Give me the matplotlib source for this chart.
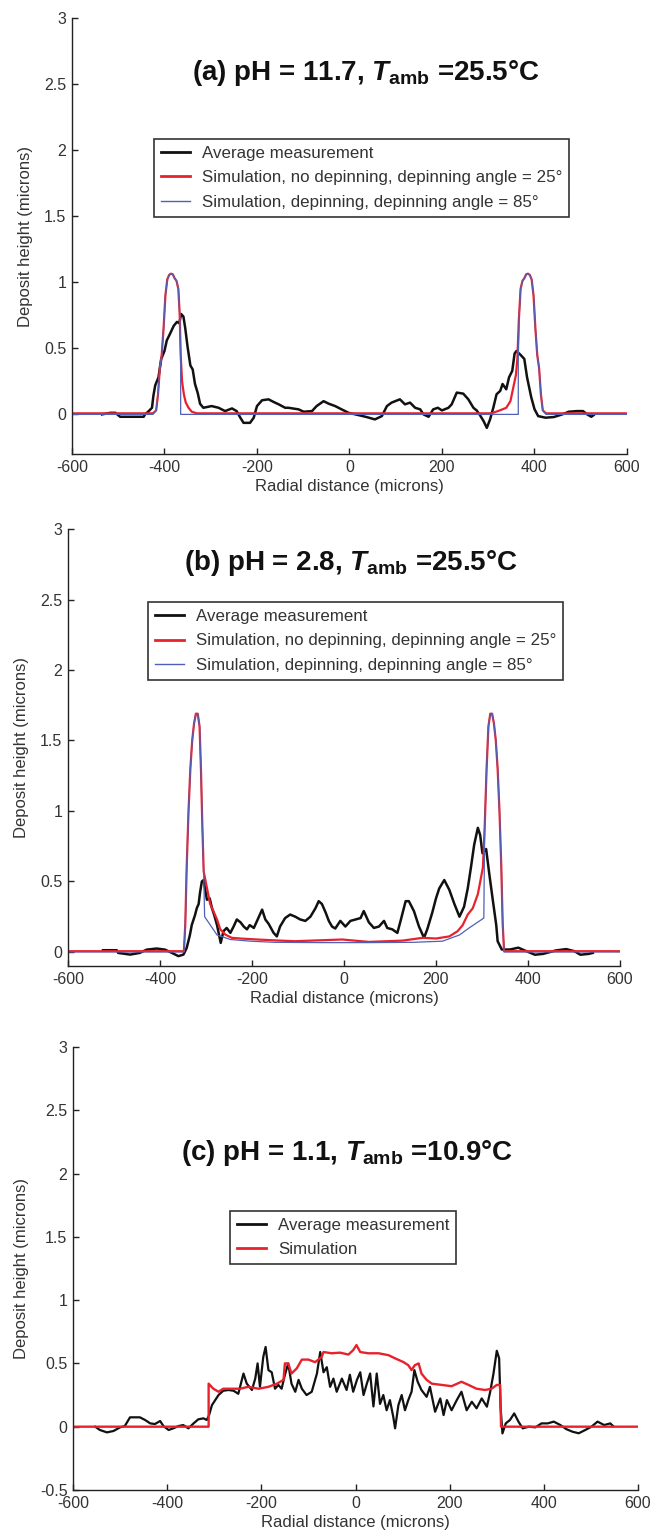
import matplotlib
matplotlib.use('Agg')
import matplotlib.pyplot as plt

plt.rcParams['font.family'] = ['Liberation Sans', 'DejaVu Sans']
plt.rcParams['mathtext.fontset'] = 'custom'
plt.rcParams['mathtext.it'] = 'Liberation Sans:italic:bold'
plt.rcParams['mathtext.bf'] = 'Liberation Sans:bold'
plt.rcParams['mathtext.rm'] = 'Liberation Sans:bold'
plt.rcParams['axes.unicode_minus'] = False

# ---- panel (a): pH 11.7 ----
a_meas_x = [-535, -517, -506, -496, -470, -445, -442, -434, -427, -424, -420, -413, -407, -400, -395,
            -388, -380, -373, -368, -364, -359, -355, -350, -344, -339, -334, -328, -323, -316, -298,
            -283, -269, -254, -244, -236, -229, -215, -207, -200, -189, -175, -164, -153, -139, -132,
            -110, -99, -81, -71, -56, -45, -31, -17, -2, 19, 37, 55, 70, 81, 91, 109, 120, 131, 142,
            153, 160, 171, 181, 191, 200, 214, 221, 232, 246, 257, 268, 275, 282, 290, 297, 304, 311,
            318, 326, 331, 339, 345, 352, 357, 361, 370, 378, 384, 393, 400, 408, 424, 442, 460, 474,
            492, 505, 514, 523, 528]
a_meas_y = [0.0, 0.012, 0.012, -0.018, -0.018, -0.018, 0.0, 0.025, 0.05, 0.14, 0.22, 0.28, 0.42, 0.48, 0.56,
            0.61, 0.67, 0.70, 0.69, 0.76, 0.74, 0.65, 0.51, 0.37, 0.34, 0.23, 0.16, 0.08, 0.05, 0.063,
            0.05, 0.025, 0.045, 0.025, -0.025, -0.064, -0.064, -0.025, 0.063, 0.107, 0.114, 0.094, 0.076, 0.05, 0.05,
            0.038, 0.02, 0.025, 0.063, 0.10, 0.081, 0.063, 0.038, 0.012, -0.005, -0.02, -0.038, -0.013, 0.063, 0.089, 0.114, 0.076, 0.089, 0.05,
            0.038, 0.0, -0.018, 0.038, 0.05, 0.03, 0.05, 0.076, 0.165, 0.157, 0.114, 0.05, 0.03, -0.005, -0.051, -0.102, -0.038, 0.05,
            0.152, 0.178, 0.23, 0.19, 0.28, 0.33, 0.46, 0.48, 0.45, 0.42, 0.28, 0.13, 0.04, -0.013, -0.025, -0.02, 0.0, 0.02,
            0.025, 0.025, 0.0, -0.018, -0.005]

a_red_x = [-600, -425, -418, -414, -410, -406, -402, -398, -394, -390, -386, -382, -378, -374, -370, -367,
           -365, -362, -358, -354, -348, -341, -330, 307, 325, 339, 348, 354, 360, 363, 366, 370, 374,
           378, 382, 386, 390, 394, 398, 402, 406, 410, 414, 418, 425, 600]
a_red_y = [0.008, 0.008, 0.03, 0.15, 0.35, 0.45, 0.65, 0.9, 1.02, 1.055, 1.065, 1.06, 1.03, 1.01, 0.95, 0.75,
           0.45, 0.25, 0.15, 0.09, 0.05, 0.02, 0.008, 0.008, 0.03, 0.05, 0.1, 0.2, 0.3, 0.42, 0.7, 0.95, 1.01,
           1.03, 1.06, 1.065, 1.055, 1.02, 0.9, 0.65, 0.45, 0.35, 0.15, 0.03, 0.008, 0.008]

a_blue_x = [-600, -425, -418, -414, -410, -406, -402, -398, -394, -390, -386, -382, -378, -374, -370, -367,
            -365, -365, 365, 365, 367, 370, 374, 378, 382, 386, 390, 394, 398, 402, 406, 410, 414, 418,
            425, 600]
a_blue_y = [0.0, 0.0, 0.03, 0.15, 0.35, 0.45, 0.65, 0.9, 1.02, 1.055, 1.065, 1.06, 1.03, 1.01, 0.95, 0.75,
            0.45, 0.0, 0.0, 0.42, 0.75, 0.95, 1.01, 1.03, 1.06, 1.065, 1.055, 1.02, 0.9, 0.65, 0.45, 0.35, 0.15,
            0.03, 0.0, 0.0]

# ---- panel (b): pH 2.8 ----
b_meas_x = [-524, -494, -491, -465, -444, -429, -407, -389, -374, -360, -349, -342, -335, -331, -324, -320,
            -316, -313, -309, -305, -302, -298, -292, -287, -282, -276, -271, -268, -262, -255, -247, -240,
            -233, -225, -218, -211, -205, -196, -189, -178, -171, -164, -153, -146, -139, -128, -117, -106,
            -95, -84, -73, -62, -55, -48, -40, -33, -26, -19, -8, 3, 14, 25, 36, 43, 54, 65, 76, 87, 94,
            105, 116, 123, 134, 141, 152, 163, 174, 181, 192, 200, 207, 218, 229, 240, 251, 261, 269, 276,
            283, 291, 296, 301, 309, 316, 323, 331, 334, 343, 361, 379, 393, 415, 433, 460, 483, 501, 514,
            532, 541]
b_meas_y = [0.012, 0.012, -0.007, -0.019, -0.007, 0.016, 0.024, 0.016, -0.007, -0.03, -0.019, 0.028, 0.12, 0.19, 0.26, 0.31,
            0.34, 0.42, 0.50, 0.51, 0.45, 0.37, 0.38, 0.31, 0.26, 0.19, 0.11, 0.064, 0.147, 0.17, 0.135, 0.18,
            0.23, 0.21, 0.18, 0.16, 0.19, 0.17, 0.22, 0.30, 0.23, 0.20, 0.135, 0.11, 0.18, 0.24, 0.265, 0.25,
            0.23, 0.22, 0.25, 0.31, 0.36, 0.34, 0.28, 0.22, 0.18, 0.166, 0.22, 0.18, 0.22, 0.23, 0.24, 0.29, 0.21, 0.17, 0.18, 0.22, 0.17,
            0.16, 0.135, 0.22, 0.36, 0.36, 0.29, 0.18, 0.10, 0.16, 0.28, 0.38, 0.45, 0.51, 0.44, 0.34, 0.25, 0.32, 0.45, 0.60,
            0.76, 0.88, 0.83, 0.70, 0.73, 0.55, 0.38, 0.19, 0.076, 0.017, 0.017, 0.03, 0.01, -0.02, -0.014, 0.01, 0.02, 0.005, -0.02,
            -0.014, -0.007]

b_red_x = [-600, -348, -345, -342, -338, -334, -330, -326, -322, -318, -314, -311, -308, -305, -298, -291,
           -284, -276, -269, -258, -244, -225, -189, -138, -106, -4, 54, 127, 171, 200, 229, 247, 258, 269,
           280, 291, 298, 302, 306, 310, 314, 318, 322, 326, 330, 334, 338, 342, 345, 348, 600]
b_red_y = [0.005, 0.005, 0.2, 0.6, 1.0, 1.3, 1.5, 1.62, 1.69, 1.69, 1.6, 1.3, 0.9, 0.57, 0.455, 0.34,
           0.29, 0.23, 0.16, 0.123, 0.10, 0.095, 0.088, 0.08, 0.076, 0.088, 0.071, 0.08, 0.10, 0.095, 0.11, 0.147, 0.19, 0.265,
           0.31, 0.41, 0.53, 0.6, 0.9, 1.3, 1.6, 1.69, 1.69, 1.62, 1.5, 1.3, 1.0, 0.6, 0.2, 0.005, 0.005]

b_blue_x = [-600, -348, -345, -342, -338, -334, -330, -326, -322, -318, -314, -311, -308, -305, -303, -276,
            -247, -203, -150, -50, 50, 150, 214, 251, 272, 304, 305, 306, 310, 314, 318, 322, 326, 330,
            334, 338, 342, 345, 348, 600]
b_blue_y = [0.0, 0.0, 0.2, 0.6, 1.0, 1.3, 1.5, 1.62, 1.69, 1.69, 1.6, 1.3, 0.9, 0.55, 0.25, 0.12,
            0.088, 0.076, 0.068, 0.066, 0.066, 0.068, 0.076, 0.12, 0.17, 0.24, 0.6, 0.9, 1.3, 1.6, 1.69, 1.69, 1.62, 1.5,
            1.3, 1.0, 0.6, 0.2, 0.0, 0.0]

# ---- panel (c): pH 1.1 ----
c_meas_x = [-553, -543, -528, -514, -500, -490, -479, -468, -458, -447, -436, -426, -415, -408, -397, -387,
            -376, -366, -355, -344, -334, -323, -316, -311, -305, -298, -291, -281, -270, -259, -249, -238,
            -231, -220, -213, -208, -203, -196, -191, -185, -178, -171, -164, -157, -150, -143, -136, -128,
            -121, -114, -104, -93, -82, -75, -68, -61, -54, -47, -40, -29, -19, -12, -5, 3, 10, 17, 24, 31,
            38, 45, 52, 59, 66, 73, 80, 84, 91, 98, 105, 112, 119, 125, 132, 140, 151, 158, 169, 180, 187,
            194, 204, 215, 225, 236, 247, 257, 268, 279, 286, 293, 300, 305, 308, 312, 319, 328, 337, 346,
            355, 368, 382, 395, 408, 421, 435, 448, 461, 474, 488, 501, 514, 528, 541, 547]
c_meas_y = [0.0, -0.026, -0.045, -0.034, -0.005, 0.005, 0.074, 0.074, 0.074, 0.053, 0.026, 0.021, 0.045, 0.005, -0.026, -0.013,
            0.005, 0.013, -0.013, 0.026, 0.058, 0.066, 0.053, 0.092, 0.17, 0.21, 0.25, 0.284, 0.29, 0.284, 0.26, 0.42,
            0.34, 0.29, 0.38, 0.50, 0.315, 0.55, 0.63, 0.447, 0.43, 0.30, 0.33, 0.30, 0.41, 0.50, 0.34, 0.276,
            0.37, 0.30, 0.25, 0.276, 0.42, 0.59, 0.43, 0.47, 0.315, 0.38, 0.276, 0.38, 0.29, 0.41, 0.276, 0.37, 0.43, 0.25, 0.34, 0.42,
            0.16, 0.42, 0.18, 0.25, 0.13, 0.21, 0.08, -0.013, 0.17, 0.25, 0.13, 0.21, 0.276, 0.447, 0.355, 0.29, 0.236, 0.315, 0.118, 0.223, 0.092,
            0.21, 0.13, 0.21, 0.276, 0.13, 0.197, 0.145, 0.223, 0.158, 0.276, 0.42, 0.60, 0.54, 0.158, -0.053, 0.026, 0.053, 0.105, 0.04,
            -0.013, 0.0, -0.005, 0.026, 0.026, 0.04, 0.013, -0.02, -0.04, -0.052, -0.026, 0.0, 0.04, 0.013, 0.026, 0.005]

c_sim_x = [-600, -312, -312, -302, -291, -281, -263, -245, -228, -206, -185, -167, -153, -150, -143, -136,
           -125, -114, -100, -86, -72, -68, -51, -33, -15, -5, 2, 10, 27, 49, 70, 84, 102, 112, 119,
           126, 134, 140, 151, 162, 183, 204, 225, 240, 257, 275, 289, 300, 307, 309, 600]
c_sim_y = [0.0, 0.0, 0.34, 0.30, 0.276, 0.30, 0.30, 0.30, 0.315, 0.30, 0.315, 0.34, 0.37, 0.50, 0.50, 0.42,
           0.46, 0.53, 0.53, 0.51, 0.55, 0.59, 0.58, 0.585, 0.57, 0.605, 0.645, 0.59, 0.58, 0.58, 0.565, 0.54, 0.51, 0.486, 0.447,
           0.486, 0.50, 0.42, 0.37, 0.34, 0.33, 0.32, 0.355, 0.33, 0.30, 0.29, 0.30, 0.33, 0.33, 0.0, 0.0]

x_ticks = [-600, -400, -200, 0, 200, 400, 600]
y_ticks_ab = [0, 0.5, 1, 1.5, 2, 2.5, 3]
y_ticks_c = [-0.5, 0, 0.5, 1, 1.5, 2, 2.5, 3]
y_tick_labels_ab = ['0', '0.5', '1', '1.5', '2', '2.5', '3']
y_tick_labels_c = ['-0.5', '0', '0.5', '1', '1.5', '2', '2.5', '3']

titles = [r'(a) pH = 11.7, $T_{\mathbf{amb}}$ =25.5°C',
          r'(b) pH = 2.8, $T_{\mathbf{amb}}$ =25.5°C',
          r'(c) pH = 1.1, $T_{\mathbf{amb}}$ =10.9°C']
lbl_meas = 'Average measurement'
lbl_red = 'Simulation, no depinning, depinning angle = 25°'
lbl_blue = 'Simulation, depinning, depinning angle = 85°'
lbl_sim = 'Simulation'

BLACK = '#111111'
RED = '#e8222c'
BLUE = '#5060b8'
TXT = '#333333'

fig = plt.figure(figsize=(6.52, 15.37), dpi=100)
ax_a = fig.add_axes([0.1104, 0.7046, 0.8512, 0.2837])
ax_b = fig.add_axes([0.1043, 0.3715, 0.8466, 0.2843])
ax_c = fig.add_axes([0.1120, 0.0306, 0.8666, 0.2882])


def style(ax, ylim, yticks, ylabels):
    ax.set_xlim(-600, 600)
    ax.set_ylim(*ylim)
    ax.set_xticks(x_ticks)
    ax.set_xticklabels([str(t) for t in x_ticks])
    ax.set_yticks(yticks)
    ax.set_yticklabels(ylabels)
    for s in ['top', 'right']:
        ax.spines[s].set_visible(False)
    for s in ['left', 'bottom']:
        ax.spines[s].set_color('#222222')
        ax.spines[s].set_linewidth(1.0)
    ax.tick_params(direction='in', length=4, width=1, colors='#222222',
                   labelcolor=TXT, labelsize=11.5, pad=4)
    ax.set_xlabel('Radial distance (microns)', fontsize=12, color=TXT, labelpad=3)
    ax.set_ylabel('Deposit height (microns)', fontsize=12, color=TXT, labelpad=8)


def legend(ax, anchor):
    leg = ax.legend(loc='upper left', bbox_to_anchor=anchor, borderaxespad=0,
                    fontsize=12.2, frameon=True, fancybox=False, framealpha=1,
                    handlelength=1.7, handletextpad=0.7, labelspacing=0.55,
                    borderpad=0.42)
    leg.get_frame().set_edgecolor('#333333')
    leg.get_frame().set_linewidth(1.2)
    for t in leg.get_texts():
        t.set_color(TXT)
    for h in leg.get_lines():
        h.set_linewidth(2.0 if h.get_color() != BLUE else 1.0)


# (a)
ax_a.plot(a_meas_x, a_meas_y, color=BLACK, lw=1.8, label=lbl_meas)
ax_a.plot(a_red_x, a_red_y, color=RED, lw=1.6, label=lbl_red)
ax_a.plot(a_blue_x, a_blue_y, color=BLUE, lw=0.9, label=lbl_blue)
style(ax_a, (-0.3, 3), y_ticks_ab, y_tick_labels_ab)
ax_a.text(36, 2.58, titles[0], fontsize=20, fontweight='bold', ha='center', va='center', color='#111111')
legend(ax_a, (0.148, 0.7225))

# (b)
ax_b.plot(b_meas_x, b_meas_y, color=BLACK, lw=1.8, label=lbl_meas)
ax_b.plot(b_red_x, b_red_y, color=RED, lw=1.6, label=lbl_red)
ax_b.plot(b_blue_x, b_blue_y, color=BLUE, lw=0.9, label=lbl_blue)
style(ax_b, (-0.1, 3), y_ticks_ab, y_tick_labels_ab)
ax_b.text(15, 2.76, titles[1], fontsize=20, fontweight='bold', ha='center', va='center', color='#111111')
legend(ax_b, (0.145, 0.833))

# (c)
ax_c.plot(c_meas_x, c_meas_y, color=BLACK, lw=1.6, label=lbl_meas)
ax_c.plot(c_sim_x, c_sim_y, color=RED, lw=1.7, label=lbl_sim)
style(ax_c, (-0.5, 3), y_ticks_c, y_tick_labels_c)
ax_c.text(-18, 2.16, titles[2], fontsize=20, fontweight='bold', ha='center', va='center', color='#111111')
legend(ax_c, (0.278, 0.63))

fig.savefig('out.png', dpi=100)
